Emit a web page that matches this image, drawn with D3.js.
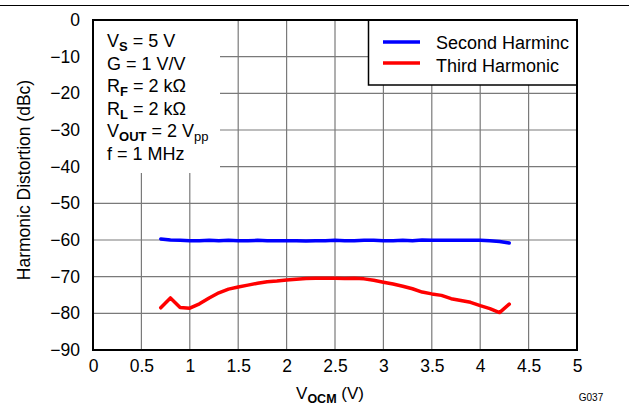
<!DOCTYPE html>
<html><head><meta charset="utf-8">
<script src="https://cdn.jsdelivr.net/npm/d3@7"></script>
<style>
body{margin:0;background:#fff;}
svg{display:block;font-family:"Liberation Sans",Arial,sans-serif;}
</style></head>
<body><svg id="c" width="629" height="417"></svg>
<script>
const vocm = [0.7,0.8,0.9,1.0,1.1,1.2,1.3,1.4,1.5,1.6,1.7,1.8,1.9,2.0,2.1,2.2,2.3,2.4,2.5,2.6,2.7,2.8,2.9,3.0,3.1,3.2,3.3,3.4,3.5,3.6,3.7,3.8,3.9,4.0,4.1,4.2,4.3];
const secondHarmonic = [-59.7,-60.0,-60.1,-60.2,-60.2,-60.1,-60.2,-60.1,-60.2,-60.2,-60.1,-60.2,-60.2,-60.2,-60.2,-60.3,-60.2,-60.2,-60.1,-60.2,-60.2,-60.1,-60.1,-60.2,-60.2,-60.1,-60.2,-60.0,-60.1,-60.1,-60.1,-60.1,-60.1,-60.1,-60.2,-60.4,-60.8];
const thirdHarmonic = [-78.5,-75.8,-78.4,-78.6,-77.4,-75.8,-74.4,-73.4,-72.8,-72.3,-71.8,-71.4,-71.2,-70.9,-70.7,-70.5,-70.4,-70.4,-70.4,-70.5,-70.4,-70.6,-71.0,-71.5,-72.0,-72.6,-73.3,-74.2,-74.7,-75.1,-76.0,-76.5,-77.0,-77.9,-78.7,-79.8,-77.5];
const xTicks = [0,0.5,1,1.5,2,2.5,3,3.5,4,4.5,5];
const yTicks = [0,-10,-20,-30,-40,-50,-60,-70,-80,-90];
const seriesNames = ["Second Harminc","Third Harmonic"];
const seriesColors = ["#0000ff","#ff0000"];

const svg = d3.select("#c");
const L=93, R=577, T=20, B=350;
const x = d3.scaleLinear().domain([0,5]).range([L,R]);
const y = d3.scaleLinear().domain([-90,0]).range([B,T]);

// top rule
svg.append("line").attr("x1",0).attr("x2",629).attr("y1",5.5).attr("y2",5.5).attr("stroke","#000").attr("stroke-width",1);

// grid
const g = svg.append("g");
g.selectAll(".vx").data(xTicks.slice(1,-1)).join("line")
 .attr("x1",d=>x(d)).attr("x2",d=>x(d)).attr("y1",T).attr("y2",B)
 .attr("stroke","#7a7a7a").attr("stroke-width",1.2);
g.selectAll(".hy").data(yTicks.slice(1,-1)).join("line")
 .attr("x1",L).attr("x2",R).attr("y1",d=>y(d)).attr("y2",d=>y(d))
 .attr("stroke","#7a7a7a").attr("stroke-width",1.2);

// annotation white box
svg.append("rect").attr("x",L).attr("y",T).attr("width",127).attr("height",153).attr("fill","#fff");

// legend box
svg.append("rect").attr("x",368.5).attr("y",T).attr("width",R-368.5).attr("height",65).attr("fill","#fff").attr("stroke","#000").attr("stroke-width",1.5);

// axes ticks labels
const FONT="Liberation Sans, Arial, sans-serif";
const xAxis = d3.axisBottom(x).tickValues(xTicks).tickSize(0).tickPadding(10).tickFormat(d3.format("~g"));
const ax = svg.append("g").attr("transform",`translate(0,${B})`).call(xAxis);
ax.select(".domain").remove();
ax.selectAll("text").attr("font-size",17.5).attr("fill","#000").attr("font-family",FONT);
const yAxis = d3.axisLeft(y).tickValues(yTicks).tickSize(0).tickPadding(13).tickFormat(d=>d<0?"\u2212"+Math.abs(d):d);
const ay = svg.append("g").attr("transform",`translate(${L},0)`).call(yAxis);
ay.select(".domain").remove();
ay.selectAll("text").attr("font-size",17.5).attr("fill","#000").attr("font-family",FONT);

// data lines
const data = [secondHarmonic, thirdHarmonic];
const line = d3.line().x((d,i)=>x(vocm[i])).y(d=>y(d)).curve(d3.curveLinear);
svg.append("g").selectAll("path").data(data).join("path")
 .attr("d",line).attr("fill","none").attr("stroke",(d,i)=>seriesColors[i])
 .attr("stroke-width",3.5).attr("stroke-linejoin","round").attr("stroke-linecap","round");

// border
svg.append("rect").attr("x",L).attr("y",T).attr("width",R-L).attr("height",B-T).attr("fill","none").attr("stroke","#000").attr("stroke-width",2);

// legend entries
seriesNames.forEach((n,i)=>{
  const yy = 42 + i*21;
  svg.append("line").attr("x1",383).attr("x2",420).attr("y1",yy).attr("y2",yy).attr("stroke",seriesColors[i]).attr("stroke-width",3.5);
  svg.append("text").attr("x",436).attr("y",49+i*22.5).attr("font-size",18).text(n);
});

// annotation text
const ann = [
  [["V",""],["S","b"],[" = 5 V",""]],
  [["G = 1 V/V",""]],
  [["R",""],["F","b"],[" = 2 k\u03A9",""]],
  [["R",""],["L","b"],[" = 2 k\u03A9",""]],
  [["V",""],["OUT","b"],[" = 2 V",""],["pp","s"]],
  [["f = 1 MHz",""]]
];
ann.forEach((parts,i)=>{
  const t = svg.append("text").attr("x",107).attr("y",47+i*22.5).attr("font-size",18);
  let sub=false;
  parts.forEach(([s,k])=>{
    const ts = t.append("tspan").text(s);
    if(k==="b"||k==="s"){
      ts.attr("font-size",13).attr("dy",sub?0:4);
      if(k==="b") ts.attr("font-weight","bold");
      sub=true;
    } else if(sub){ ts.attr("dy",-4); sub=false; }
  });
});

// axis titles
svg.append("text").attr("transform","translate(30,180) rotate(-90)").attr("text-anchor","middle").attr("font-size",17.5).text("Harmonic Distortion (dBc)");
const xt = svg.append("text").attr("x",330).attr("y",399).attr("text-anchor","middle").attr("font-size",17);
xt.append("tspan").text("V");
xt.append("tspan").text("OCM").attr("font-size",12.5).attr("font-weight","bold").attr("dy",4);
xt.append("tspan").text(" (V)").attr("dy",-4);
svg.append("text").attr("x",591).attr("y",401).attr("text-anchor","middle").attr("font-size",10).text("G037");
</script></body></html>
